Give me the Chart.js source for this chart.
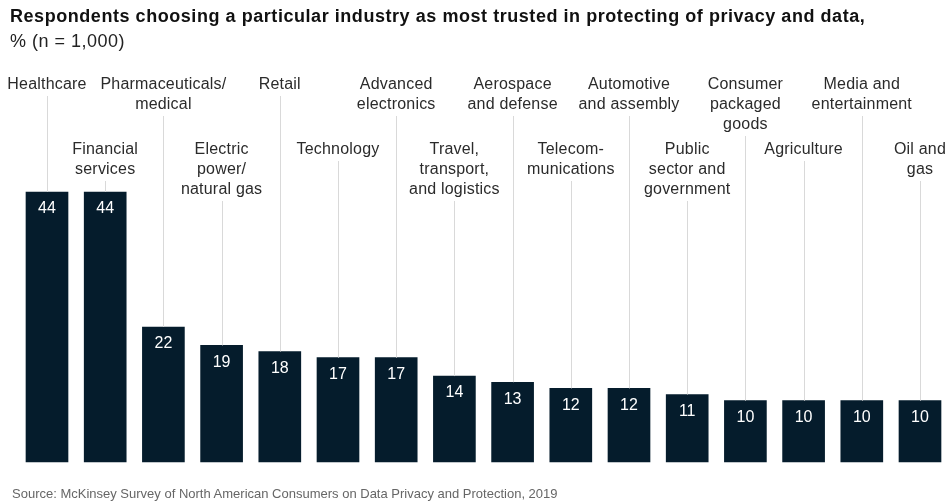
<!DOCTYPE html>
<html>
<head>
<meta charset="utf-8">
<script src="https://cdn.jsdelivr.net/npm/chart.js@4/dist/chart.umd.min.js"></script>
<style>
  html, body { margin: 0; padding: 0; background: #fff; }
  body { width: 948px; height: 504px; position: relative; overflow: hidden; font-family: "Liberation Sans", Arial, sans-serif; }
  #title { position: absolute; left: 10px; top: 6px; font-size: 18px; font-weight: bold; color: #111; letter-spacing: 0.55px; white-space: nowrap; }
  #subtitle { position: absolute; left: 10px; top: 31px; font-size: 18px; color: #222; letter-spacing: 0.5px; }
  #source { position: absolute; left: 12px; top: 486px; font-size: 13px; color: #666; white-space: nowrap; }
  #wrap { position: absolute; left: 0; top: 0; width: 948px; height: 504px; }
</style>
</head>
<body>
<div id="wrap"><canvas id="chart"></canvas></div>
<div id="title">Respondents choosing a particular industry as most trusted in protecting of privacy and data,</div>
<div id="subtitle">% (n = 1,000)</div>
<div id="source">Source: McKinsey Survey of North American Consumers on Data Privacy and Protection, 2019</div>

<script>
// Industry labels, split into the lines shown above each bar
const industries = [
    ['Healthcare'],
    ['Financial', 'services'],
    ['Pharmaceuticals/', 'medical'],
    ['Electric', 'power/', 'natural gas'],
    ['Retail'],
    ['Technology'],
    ['Advanced', 'electronics'],
    ['Travel,', 'transport,', 'and logistics'],
    ['Aerospace', 'and defense'],
    ['Telecom-', 'munications'],
    ['Automotive', 'and assembly'],
    ['Public', 'sector and', 'government'],
    ['Consumer', 'packaged', 'goods'],
    ['Agriculture'],
    ['Media and', 'entertainment'],
    ['Oil and', 'gas']
];

// Share of respondents, %
const trustShare = [44, 44, 22, 19, 18, 17, 17, 14, 13, 12, 12, 11, 10, 10, 10, 10];

const barColor = '#051c2c';

// Draws the industry names above the bars, with a thin leader line down to each bar
const industryLabels = {
    id: 'industryLabels',
    afterDatasetsDraw(chart) {
        const ctx = chart.ctx;
        const meta = chart.getDatasetMeta(0);
        ctx.save();
        ctx.textAlign = 'center';
        ctx.textBaseline = 'middle';

        meta.data.forEach((bar, i) => {
            const lines = industries[i];
            const firstY = (i % 2 === 0) ? 85 : 150;  // alternate rows
            const lineH = 20;
            const x = bar.x;

            ctx.font = '16px "Liberation Sans", Arial, sans-serif';
            ctx.letterSpacing = '0.2px';
            ctx.fillStyle = '#2b2b2b';
            lines.forEach((txt, k) => ctx.fillText(txt, x, firstY + k * lineH));

            // leader line
            const startY = firstY + (lines.length - 1) * lineH + 11;
            ctx.strokeStyle = '#d9d9d9';
            ctx.lineWidth = 1;
            ctx.beginPath();
            ctx.moveTo(Math.round(x) + 0.5, startY);
            ctx.lineTo(Math.round(x) + 0.5, bar.y);
            ctx.stroke();

            // value inside bar
            ctx.font = '16px "Liberation Sans", Arial, sans-serif';
            ctx.letterSpacing = '0px';
            ctx.fillStyle = '#ffffff';
            ctx.fillText(String(trustShare[i]), x, bar.y + 17);
        });
        ctx.restore();
    }
};

new Chart(document.getElementById('chart'), {
    type: 'bar',
    data: {
        labels: industries.map(l => l.join(' ')),
        datasets: [{
            data: trustShare,
            backgroundColor: barColor,
            borderWidth: 0,
            barThickness: 42,
            clip: false
        }]
    },
    options: {
        responsive: true,
        maintainAspectRatio: false,
        animation: false,
        layout: {
            padding: { left: 47, right: 28, top: 192, bottom: 42 }
        },
        plugins: {
            legend: { display: false },
            tooltip: { enabled: false }
        },
        scales: {
            x: { display: false, offset: false },
            y: { display: false, min: 0, max: 44 }
        }
    },
    plugins: [industryLabels]
});
</script>
</body>
</html>
